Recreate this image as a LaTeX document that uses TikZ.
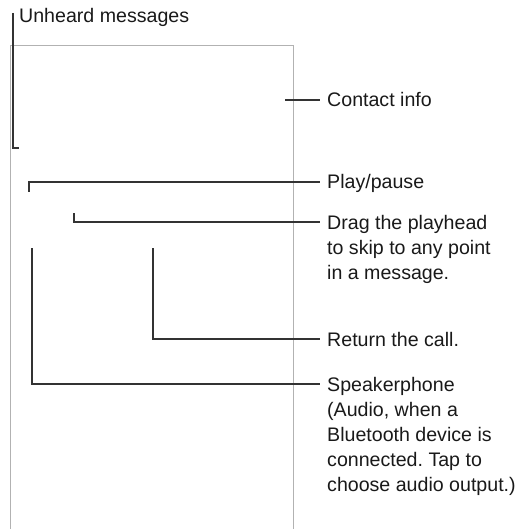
\documentclass[tikz,border=0pt]{standalone}
\usepackage{fontspec}
\setmainfont{Liberation Sans}
\frenchspacing
\begin{document}
\begin{tikzpicture}[x=1pt,y=-1pt,
  frame/.style={draw=black!30,line width=1pt},
  callout/.style={draw=black!80,line width=1.4pt},
  lbl/.style={anchor=base west,inner xsep=7pt,inner ysep=0pt,align=left,
    font=\fontsize{19.6pt}{25pt}\selectfont\frenchspacing,text=black!90}]
\useasboundingbox (0,0) rectangle (520,529);
% phone frame
\draw[frame] (10,529) -- (10,46) -- (293,46) -- (293,529);
% labels (anchor = baseline of the last line)
\node[lbl,inner xsep=6pt] (um) at (13,23) {Unheard messages};
\node[lbl] (ci) at (320,107) {Contact info};
\node[lbl] (pp) at (320,189) {Play/pause};
\node[lbl] (dr) at (320,279) {Drag the playhead\\to skip to any point\\in a message.};
\node[lbl] (rc) at (320,346) {Return the call.};
\node[lbl] (sp) at (320,491) {Speakerphone\\(Audio, when a\\Bluetooth device is\\connected. Tap to\\choose audio output.)};
% anchor points
\coordinate (u1) at (18.5,148);
\coordinate (c1) at (285,100);
\coordinate (p1) at (29,192);
\coordinate (d1) at (74,213);
\coordinate (r1) at (153,248);
\coordinate (s1) at (32,248);
% callouts
\draw[callout] ([yshift=10pt]um.base west) |- (u1);
\draw[callout] (c1) -- ([yshift=7pt]ci.base west);
\draw[callout] (p1) |- ([yshift=7pt]pp.base west);
\draw[callout] (d1) |- ([yshift=57pt]dr.base west);
\draw[callout] (r1) |- ([yshift=7pt]rc.base west);
\draw[callout] (s1) |- ([yshift=107pt]sp.base west);
\end{tikzpicture}
\end{document}
